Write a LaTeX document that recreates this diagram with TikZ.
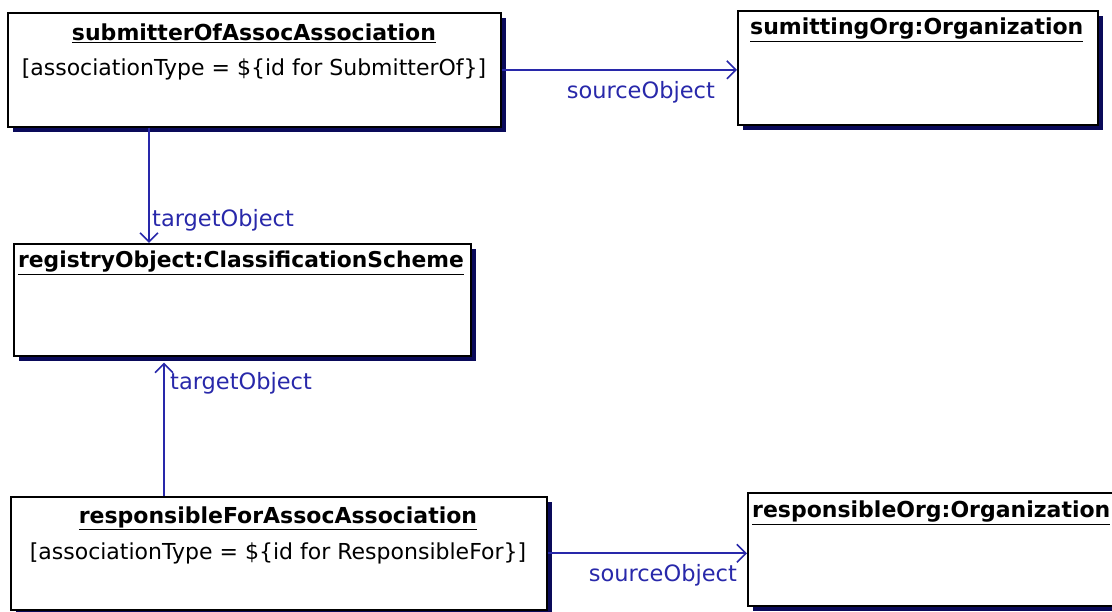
\documentclass[tikz,border=0pt]{standalone}
\usepackage{fontspec}
\setmainfont{DejaVu Sans}
\usetikzlibrary{arrows.meta,shadows,calc}
\definecolor{linec}{RGB}{40,40,170}
\definecolor{shadc}{RGB}{10,10,90}
\tikzset{
 objbox/.style={draw=black,line width=1.6pt,fill=white,rectangle,inner sep=0pt,anchor=north west,
   drop shadow={shadow xshift=5pt,shadow yshift=-5pt,fill=shadc,opacity=1}},
 ttl/.style={font=\fontsize{22}{26}\selectfont\bfseries, inner sep=0pt},
 attr/.style={font=\fontsize{22}{26}\selectfont, inner sep=0pt},
 lbl/.style={font=\fontsize{22.5}{26}\selectfont, text=linec, inner sep=0pt},
 conn/.style={draw=linec, line width=1.9pt, -{Straight Barb[length=9pt,width=18pt,line width=1.6pt]}},
}
\begin{document}
\begin{tikzpicture}[x=1pt,y=-1pt]
\useasboundingbox (0,0) rectangle (1112,612);
% boxes
\node[objbox,minimum width=493pt,minimum height=114pt] (A) at (7,12) {};
\node[objbox,minimum width=360pt,minimum height=114pt] (B) at (737,10) {};
\node[objbox,minimum width=457pt,minimum height=112pt] (C) at (13,243) {};
\node[objbox,minimum width=536pt,minimum height=113pt] (D) at (10,496) {};
\node[objbox,minimum width=375pt,minimum height=113pt] (E) at (747,492) {};
% texts
\node[ttl] (At) at (254,33) {\underline{submitterOfAssocAssociation}};
\node[attr] (Aa) at (254,69) {[associationType = \$\{id for SubmitterOf\}]};
\node[ttl,anchor=west] (Bt) at (750,30) {\underline{sumittingOrg:Organization}};
\node[ttl,anchor=west,font=\fontsize{21.8}{26}\selectfont\bfseries] (Ct) at (18,263) {\underline{registryObject:ClassificationScheme}};
\node[ttl] (Dt) at (278,518) {\underline{responsibleForAssocAssociation}};
\node[attr] (Da) at (278,553) {[associationType = \$\{id for ResponsibleFor\}]};
\node[ttl,anchor=west] (Et) at (752,513) {\underline{responsibleOrg:Organization}};
% connectors
\draw[conn] (A.east) -- (A.east -| B.west);
\coordinate (a1) at ($(A.south west)+(142,0)$);
\draw[conn] (a1) -- (a1 |- C.north);
\coordinate (d1) at ($(D.north west)+(154,0)$);
\coordinate (c1) at ($(C.south)+(0,6)$);
\draw[conn] (d1) -- (d1 |- c1);
\draw[conn] (D.east) -- (D.east -| E.west);
% labels
\node[lbl,anchor=east] (l1) at (715,92) {sourceObject};
\node[lbl,anchor=west] (l2) at (152,220) {targetObject};
\node[lbl,anchor=west] (l3) at (170,383) {targetObject};
\node[lbl,anchor=east] (l4) at (737,575) {sourceObject};
\end{tikzpicture}
\end{document}
